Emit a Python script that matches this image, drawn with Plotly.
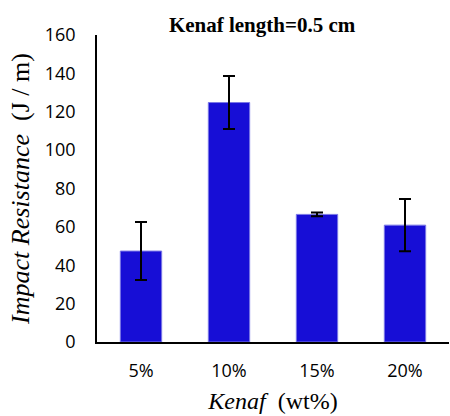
import plotly.graph_objects as go

categories = ["5%", "10%", "15%", "20%"]
impact = [47.4, 124.8, 66.5, 60.9]
err = [15.1, 13.8, 1.0, 13.6]
y_ticks = [0, 20, 40, 60, 80, 100, 120, 140, 160]

serif = "Liberation Serif, Times New Roman, serif"

fig = go.Figure()
fig.add_trace(go.Bar(
    x=categories, y=impact,
    marker=dict(color="#170ed6", line=dict(color="#7a78e6", width=1)),
    error_y=dict(type="data", array=err, visible=True, color="black", thickness=2, width=6),
))

fig.update_layout(
    width=450, height=416,
    margin=dict(l=97, r=1, t=35, b=74),
    paper_bgcolor="white", plot_bgcolor="white",
    bargap=0.53,
    showlegend=False,
    title=dict(text="<b>Kenaf length=0.5 cm</b>", font=dict(family=serif, size=21, color="black"),
               x=0.469, xref="paper", xanchor="center", y=1 - 25 / 416, yref="container", yanchor="middle"),
)
fig.update_xaxes(
    showline=True, linecolor="black", linewidth=1.5,
    ticks="outside", ticklen=12, tickcolor="rgba(0,0,0,0)",
    tickfont=dict(family="Open Sans", size=18, color="black"),
    range=[-0.5, 3.5],
    title=dict(text="<i>Kenaf</i>&nbsp; (wt%)", font=dict(family=serif, size=24, color="black"), standoff=11),
)
fig.update_yaxes(
    range=[0, 160], tickvals=y_ticks,
    showline=True, linecolor="black", linewidth=1.5, showgrid=False, zeroline=False,
    ticks="outside", ticklen=16, tickcolor="rgba(0,0,0,0)",
    tickfont=dict(family="Open Sans", size=18, color="black"),
    title=dict(text="<i>Impact Resistance</i>&nbsp; (J / m)", font=dict(family=serif, size=26, color="black"), standoff=8),
)
fig.write_html("out.html")
